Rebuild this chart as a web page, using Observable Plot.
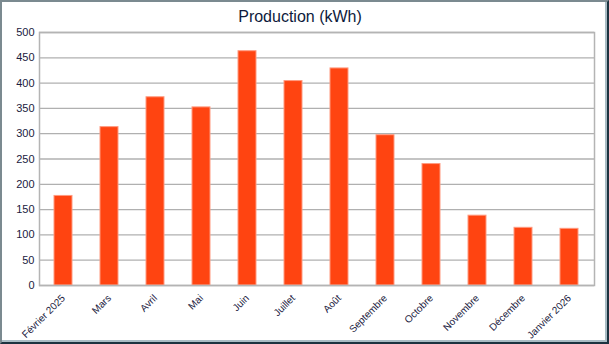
<!DOCTYPE html>
<html>
<head>
<meta charset="utf-8">
<script src="https://cdn.jsdelivr.net/npm/d3@7"></script>
<script src="https://cdn.jsdelivr.net/npm/@observablehq/plot@0.6"></script>
<style>
  html, body { margin: 0; padding: 0; background: #fff; }
  #wrap { position: relative; width: 609px; height: 344px; overflow: hidden; background: #fff; font-family: "Liberation Sans", Arial, sans-serif; }
  #frame { position: absolute; left: 0; top: 0; width: 609px; height: 344px; box-sizing: border-box;
    border-left: 2px solid #7b8a90; border-top: 2px solid #7b8a90; border-right: 2px solid #1c3340; border-bottom: 2px solid #1c3340;
    box-shadow: inset -2px -2px 0 #a9bcc4; pointer-events: none; }
  #title { position: absolute; left: 0; width: 600px; top: 8px; text-align: center; font-size: 16px; color: #0d1a3c; }
  #chart { position: absolute; left: 0; top: 0; }
</style>
</head>
<body>
<div id="wrap">
  <div id="chart"></div>
  <div id="title">Production (kWh)</div>
  <div id="frame"></div>
</div>
<script>
const months = ["Février 2025", "Mars", "Avril", "Mai", "Juin", "Juillet", "Août", "Septembre", "Octobre", "Novembre", "Décembre", "Janvier 2026"];
const production = [177, 313, 372, 352, 463, 404, 429, 297, 240, 138, 114, 112];
const yTicks = [0, 50, 100, 150, 200, 250, 300, 350, 400, 450, 500];

const data = months.map((m, i) => ({month: m, value: production[i]}));

const chart = Plot.plot({
  width: 609,
  height: 344,
  marginTop: 32,
  marginBottom: 59,
  marginLeft: 39,
  marginRight: 15,
  style: {fontFamily: "Liberation Sans, Arial, sans-serif", background: "transparent", color: "#1a2040"},
  x: {domain: months, paddingInner: 0.6, paddingOuter: 0.3, label: null},
  y: {domain: [0, 500], label: null},
  marks: [
    Plot.gridY(yTicks, {stroke: "#b0b0b0", strokeOpacity: 1, strokeWidth: 1.3}),
    Plot.barY(data, {x: "month", y: "value", fill: "#ff4411", stroke: "#ff9a80", strokeWidth: 1}),
    Plot.frame({stroke: "#b4b4b4", strokeWidth: 1.5}),
    Plot.axisY(yTicks, {tickSize: 0, tickPadding: 5, fontSize: 11, fill: "#1a2040", label: null}),
    Plot.axisX(months, {tickSize: 0, tickPadding: 11, tickRotate: -45, fontSize: 10, fill: "#1a2040", label: null})
  ]
});
document.getElementById("chart").appendChild(chart);
</script>
</body>
</html>
